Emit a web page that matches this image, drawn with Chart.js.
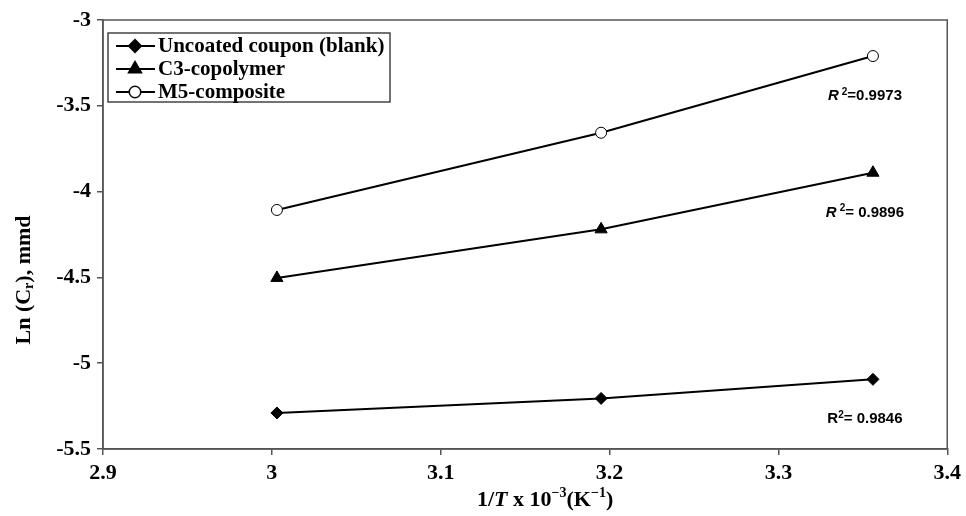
<!DOCTYPE html>
<html>
<head>
<meta charset="utf-8">
<script src="https://cdn.jsdelivr.net/npm/chart.js@4.4.0/dist/chart.umd.min.js"></script>
<style>
  html, body { margin: 0; padding: 0; background: #fff; }
  #wrap { width: 966px; height: 516px; }
</style>
</head>
<body>
<div id="wrap"><canvas id="myChart" width="966" height="516"></canvas></div>
<script>
// data
var invT = [3.003, 3.195, 3.356];
var blank = [-5.290, -5.205, -5.094];
var c3 = [-4.503, -4.220, -3.890];
var m5 = [-4.107, -3.657, -3.210];
var names = ['Uncoated coupon (blank)', 'C3-copolymer', 'M5-composite'];
var r2Text = ['= 0.9846', '= 0.9896', '=0.9973'];
var r2Italic = [false, true, true];
var xTickLabels = ['2.9', '3', '3.1', '3.2', '3.3', '3.4'];
var yTickLabels = ['-5.5', '-5', '-4.5', '-4', '-3.5', '-3'];

var serif = '"Liberation Serif", "Times New Roman", serif';
var sans = '"Liberation Sans", Arial, sans-serif';
var axisCol = '#555';

function pts(ys) {
  return invT.map(function (x, i) { return { x: x, y: ys[i] }; });
}

var styles = [
  { pointStyle: 'rectRot', pointRadius: 6, pointBackgroundColor: '#000', pointBorderWidth: 1 },
  { pointStyle: 'triangle', pointRadius: 7, pointBackgroundColor: '#000', pointBorderWidth: 1 },
  { pointStyle: 'circle', pointRadius: 5.5, pointBackgroundColor: '#fff', pointBorderWidth: 1 }
];

var datasets = [blank, c3, m5].map(function (ys, i) {
  return Object.assign({
    label: names[i],
    data: pts(ys),
    borderColor: '#000',
    borderWidth: 2,
    pointBorderColor: '#000',
    tension: 0,
    fill: false
  }, styles[i]);
});

// frame, legend, axis titles and R² labels
var extras = {
  id: 'extras',
  afterDraw: function (chart) {
    var ctx = chart.ctx, a = chart.chartArea;
    ctx.save();
    ctx.strokeStyle = axisCol;
    ctx.lineWidth = 1.5;
    ctx.strokeRect(a.left, a.top, a.right - a.left, a.bottom - a.top);

    // legend
    var lx = a.left + 5, ly = a.top + 13, lw = 282, lh = 69;
    ctx.strokeStyle = '#444';
    ctx.lineWidth = 1.5;
    ctx.strokeRect(lx, ly, lw, lh);
    ctx.font = 'bold 21px ' + serif;
    ctx.textBaseline = 'middle';
    ctx.fillStyle = '#000';
    chart.data.datasets.forEach(function (ds, i) {
      var y = ly + 13 + i * 23;
      ctx.strokeStyle = '#000';
      ctx.lineWidth = 2;
      ctx.beginPath();
      ctx.moveTo(lx + 8, y);
      ctx.lineTo(lx + 47, y);
      ctx.stroke();
      Chart.helpers.drawPoint(ctx, {
        pointStyle: ds.pointStyle, radius: ds.pointRadius, rotation: 0,
        borderWidth: ds.pointBorderWidth
      }, lx + 27, y);
      ctx.fillStyle = ds.pointBackgroundColor;
      ctx.strokeStyle = '#000';
      ctx.lineWidth = ds.pointBorderWidth;
      ctx.fill();
      ctx.stroke();
      ctx.fillStyle = '#000';
      ctx.textAlign = 'left';
      ctx.font = 'bold 21px ' + serif;
      ctx.fillText(ds.label, lx + 50, y + 1);
    });

    // R² labels below the last point of each line
    ctx.textBaseline = 'middle';
    chart.data.datasets.forEach(function (ds, i) {
      var meta = chart.getDatasetMeta(i);
      var p = meta.data[meta.data.length - 1];
      var cx = p.x - 8, cy = p.y + 40;
      var rFont = (r2Italic[i] ? 'italic ' : '') + 'bold 15px ' + sans;
      ctx.font = rFont;
      var wR = ctx.measureText('R').width + (r2Italic[i] ? 3 : 0);
      ctx.font = 'bold 10px ' + sans;
      var w2 = ctx.measureText('2').width;
      ctx.font = 'bold 15px ' + sans;
      var wT = ctx.measureText(r2Text[i]).width;
      var x0 = cx - (wR + w2 + wT) / 2;
      ctx.textAlign = 'left';
      ctx.font = rFont;
      ctx.fillText('R', x0, cy);
      ctx.font = 'bold 10px ' + sans;
      ctx.fillText('2', x0 + wR, cy - 4);
      ctx.font = 'bold 15px ' + sans;
      ctx.fillText(r2Text[i], x0 + wR + w2, cy);
    });

    // x title: 1/T x 10^-3 (K^-1)
    var parts = [
      ['1/', 'bold 22px ', 0],
      ['T', 'italic bold 22px ', 0],
      [' x 10', 'bold 22px ', 0],
      ['\u22123', 'bold 14px ', -7],
      ['(K', 'bold 22px ', 0],
      ['\u22121', 'bold 14px ', -7],
      [')', 'bold 22px ', 0]
    ];
    var total = 0;
    parts.forEach(function (pt) { ctx.font = pt[1] + serif; total += ctx.measureText(pt[0]).width; });
    var xx = (a.left + a.right) / 2 + 20 - total / 2, ty = 500;
    parts.forEach(function (pt) {
      ctx.font = pt[1] + serif;
      ctx.fillText(pt[0], xx, ty + pt[2]);
      xx += ctx.measureText(pt[0]).width;
    });

    // y title: Ln (C_r), mmd
    var yparts = [
      ['Ln (C', 'bold 22px ', 0],
      ['r', 'bold 14px ', 5],
      ['), mmd', 'bold 22px ', 0]
    ];
    ctx.save();
    ctx.translate(24, 280);
    ctx.rotate(-Math.PI / 2);
    total = 0;
    yparts.forEach(function (pt) { ctx.font = pt[1] + serif; total += ctx.measureText(pt[0]).width; });
    xx = -total / 2;
    yparts.forEach(function (pt) {
      ctx.font = pt[1] + serif;
      ctx.fillText(pt[0], xx, pt[2]);
      xx += ctx.measureText(pt[0]).width;
    });
    ctx.restore();
    ctx.restore();
  }
};

var ctx = document.getElementById('myChart').getContext('2d');
var myChart = new Chart(ctx, {
  type: 'line',
  data: { datasets: datasets },
  options: {
    responsive: false,
    animation: false,
    layout: { padding: { left: 0, right: 16, top: 20, bottom: 0 } },
    plugins: { legend: { display: false }, tooltip: { enabled: false } },
    scales: {
      x: {
        type: 'linear',
        min: 2.9,
        max: 3.4,
        ticks: {
          stepSize: 0.1,
          color: '#000',
          padding: 5,
          font: { family: serif, size: 22, weight: 'bold' },
          callback: function (v, i) { return xTickLabels[i]; }
        },
        grid: { drawOnChartArea: false, tickLength: 6, color: axisCol, lineWidth: 1.5 },
        border: { color: axisCol, width: 1.5 },
        afterFit: function (s) { s.height = 67; }
      },
      y: {
        min: -5.5,
        max: -3,
        ticks: {
          stepSize: 0.5,
          color: '#000',
          padding: 6,
          font: { family: serif, size: 22, weight: 'bold' },
          callback: function (v, i) { return yTickLabels[i]; }
        },
        grid: { drawOnChartArea: false, tickLength: 6, color: axisCol, lineWidth: 1.5 },
        border: { color: axisCol, width: 1.5 },
        afterFit: function (s) { s.width = 103; }
      }
    }
  },
  plugins: [extras]
});
</script>
</body>
</html>
